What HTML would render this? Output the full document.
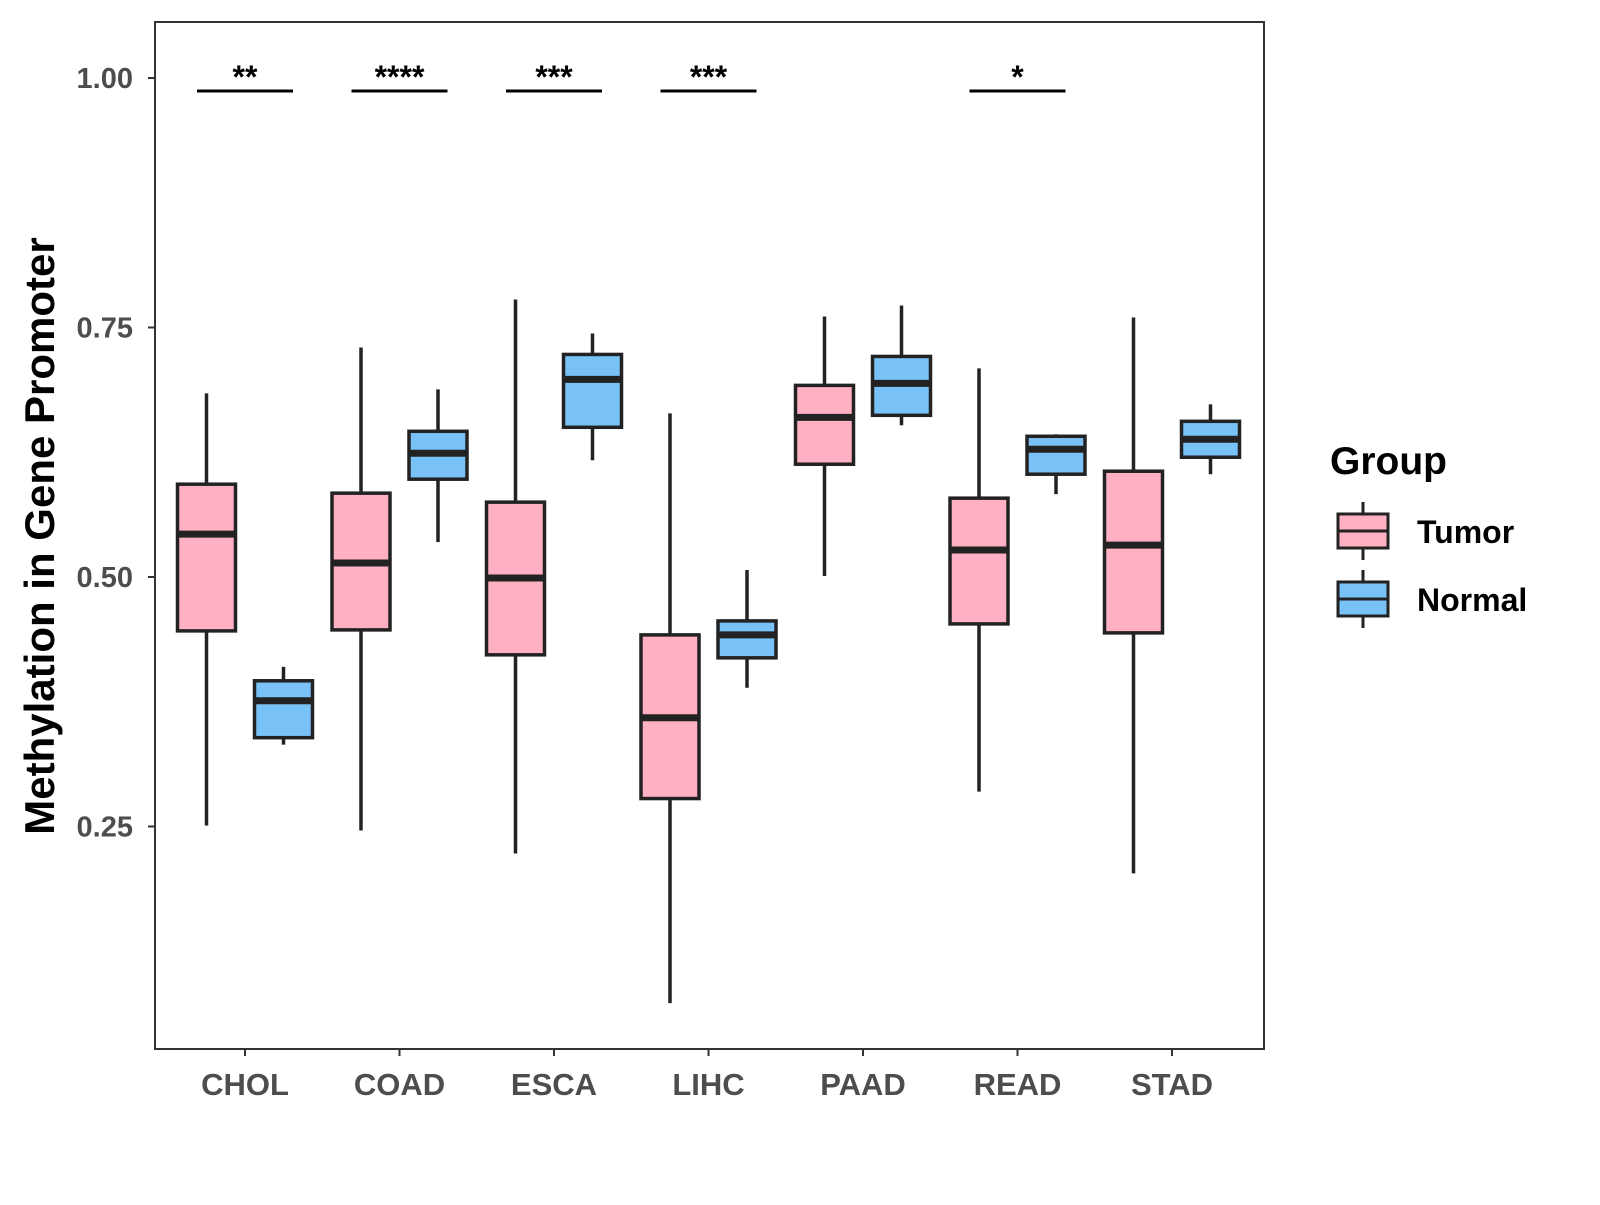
<!DOCTYPE html>
<html><head><meta charset="utf-8"><style>
html,body{margin:0;padding:0;background:#fff;}
svg text{font-family:"Liberation Sans",Arial,sans-serif;font-weight:bold;}
</style></head><body>
<svg id="chart" width="1600" height="1200" xmlns="http://www.w3.org/2000/svg">
<rect x="155" y="22" width="1109" height="1027" fill="#fff" stroke="#333" stroke-width="2"/>
<g id="marks"></g>
<text x="0" y="0" transform="translate(54,536) rotate(-90)" text-anchor="middle" font-size="42" fill="#000">Methylation in Gene Promoter</text>
<g>
<text x="1330" y="474" font-size="39" fill="#000">Group</text>
<g>
<line x1="1363" y1="502" x2="1363" y2="560" stroke="#222" stroke-width="3"/>
<rect x="1338" y="514" width="50" height="34" fill="#FFB0C2" stroke="#222" stroke-width="3"/>
<line x1="1338" y1="531" x2="1388" y2="531" stroke="#222" stroke-width="3"/>
<text x="1417" y="543" font-size="32" fill="#000">Tumor</text></g>
<g>
<line x1="1363" y1="570" x2="1363" y2="628" stroke="#222" stroke-width="3"/>
<rect x="1338" y="582" width="50" height="34" fill="#79C2F7" stroke="#222" stroke-width="3"/>
<line x1="1338" y1="599" x2="1388" y2="599" stroke="#222" stroke-width="3"/>
<text x="1417" y="611" font-size="32" fill="#000">Normal</text></g>
</g>
</svg>
<script>
const categories=["CHOL","COAD","ESCA","LIHC","PAAD","READ","STAD"];
// [lower whisker, q1, median, q3, upper whisker]
const tumorStats=[[0.251,0.446,0.543,0.593,0.684],[0.246,0.447,0.514,0.584,0.730],[0.223,0.422,0.499,0.575,0.778],[0.073,0.278,0.359,0.442,0.664],[0.501,0.613,0.660,0.692,0.761],[0.285,0.453,0.527,0.579,0.709],[0.203,0.444,0.532,0.606,0.760]];
const normalStats=[[0.332,0.339,0.376,0.396,0.410],[0.535,0.598,0.624,0.646,0.688],[0.617,0.650,0.698,0.723,0.744],[0.389,0.419,0.442,0.456,0.507],[0.652,0.662,0.694,0.721,0.772],[0.583,0.603,0.628,0.641,0.643],[0.603,0.620,0.638,0.656,0.673]];
const signif=["**","****","***","***","","*",""];
const yTicks=[0.25,0.5,0.75,1.0];
const yTickLabels=["0.25","0.50","0.75","1.00"];
const sigLevel=0.987;

const NS="http://www.w3.org/2000/svg";
const g=document.getElementById('marks');
function yS(v){return 78+(1-v)*998;}
function xS(i){return 245+i*154.5;}
function mk(tag,attrs,parent){const e=document.createElementNS(NS,tag);for(const k in attrs)e.setAttribute(k,attrs[k]);(parent||g).appendChild(e);return e;}

yTicks.forEach((t,i)=>{
  const l=mk('line',{x1:148,x2:155,y1:yS(t),y2:yS(t),stroke:'#333','stroke-width':2});
  
  
  const tx=mk('text',{x:133,y:yS(t)+10,'text-anchor':'end','font-size':29,fill:'#4d4d4d'});
  tx.textContent=yTickLabels[i];
  
  
});
function drawBox(s,cx,fill,name){
  const bg=mk('g',{});
  
  
  const w=58;
  mk('line',{x1:cx,x2:cx,y1:yS(s[4]),y2:yS(s[3]),stroke:'#222','stroke-width':3.5},bg);
  mk('line',{x1:cx,x2:cx,y1:yS(s[1]),y2:yS(s[0]),stroke:'#222','stroke-width':3.5},bg);
  mk('rect',{x:cx-w/2,y:yS(s[3]),width:w,height:yS(s[1])-yS(s[3]),fill:fill,stroke:'#222','stroke-width':3.5},bg);
  mk('line',{x1:cx-w/2,x2:cx+w/2,y1:yS(s[2]),y2:yS(s[2]),stroke:'#222','stroke-width':7},bg);
}
categories.forEach((c,i)=>{
  const cx=xS(i);
  drawBox(tumorStats[i],cx-38.5,'#FFB0C2','box-'+c.toLowerCase()+'-tumor');
  drawBox(normalStats[i],cx+38.5,'#79C2F7','box-'+c.toLowerCase()+'-normal');
  const tk=mk('line',{x1:cx,x2:cx,y1:1049,y2:1056,stroke:'#333','stroke-width':2});
  
  
  const tl=mk('text',{x:cx,y:1095,'text-anchor':'middle','font-size':31,fill:'#4d4d4d'});
  tl.textContent=c;
  
  
  if(signif[i]){
    const sl=mk('line',{x1:cx-48,x2:cx+48,y1:yS(sigLevel),y2:yS(sigLevel),stroke:'#000','stroke-width':3});
    
    
    const st=mk('text',{x:cx,y:yS(sigLevel)-3,'text-anchor':'middle','font-size':32,fill:'#000'});
    st.textContent=signif[i];
    
    
  }
});
</script>
</body></html>
